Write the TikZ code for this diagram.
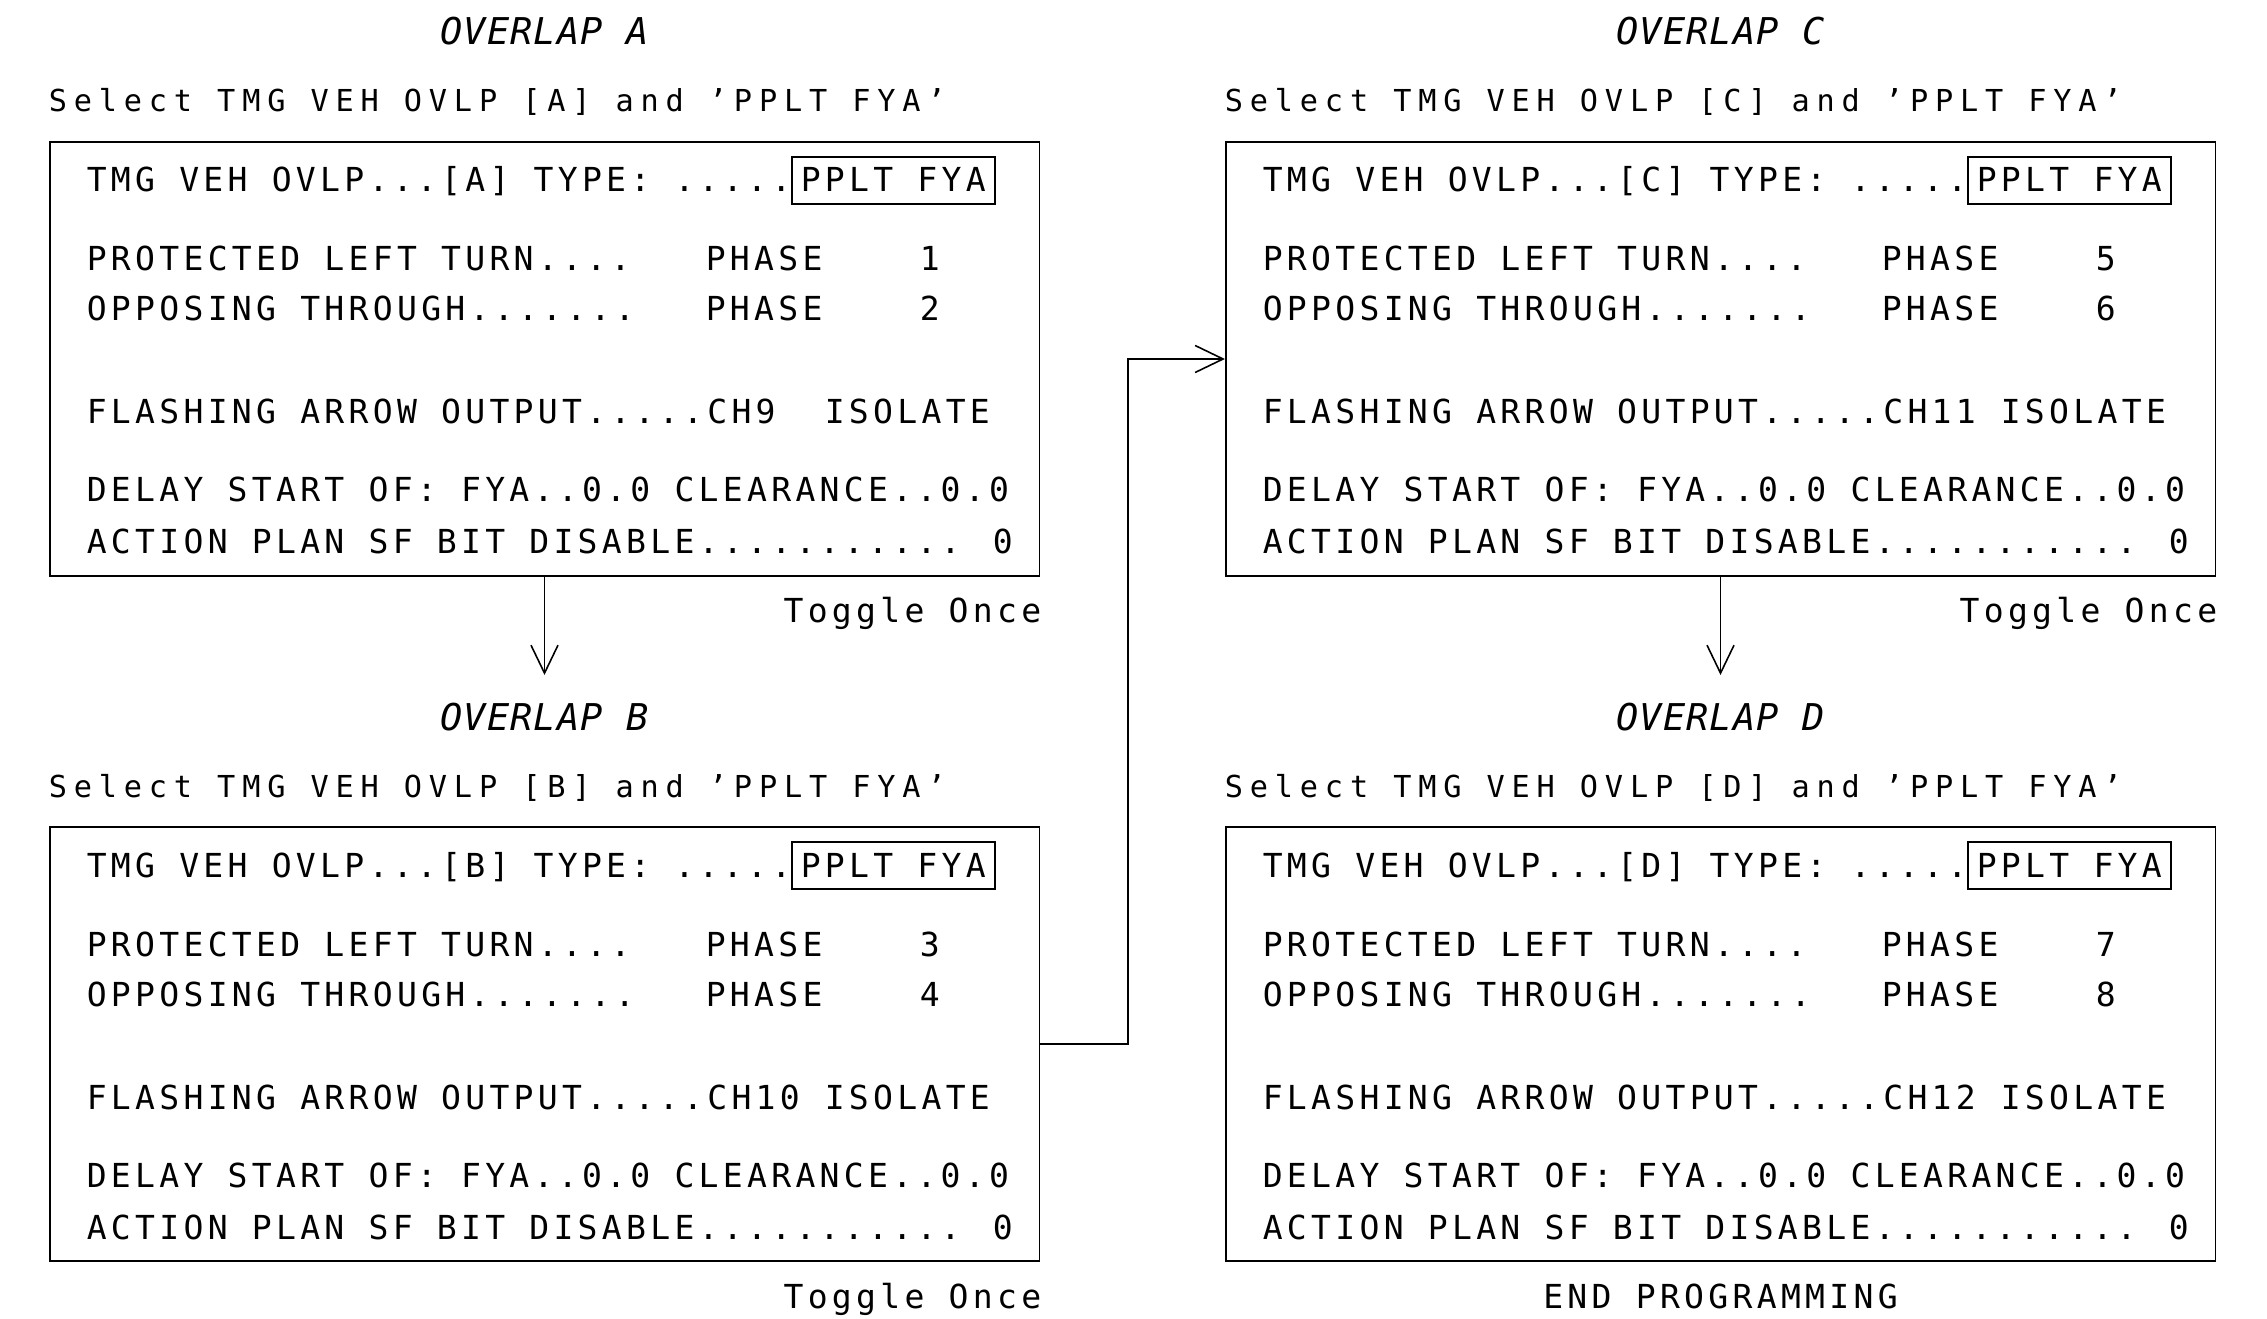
\documentclass[tikz,border=0pt]{standalone}
\usepackage{fontspec}
\newfontfamily\cadfont[LetterSpace=13]{DejaVu Sans Mono}
\newfontfamily\cadsel[LetterSpace=22.6]{DejaVu Sans Mono}
\newfontfamily\cadttl[LetterSpace=3]{DejaVu Sans Mono}
\usetikzlibrary{arrows.meta, positioning}

\begin{document}
\begin{tikzpicture}[x=0.01cm, y=-0.01cm, line width=0.45pt,
  >={Straight Barb[length=0.28cm, width=0.27cm]},
  panel/.style={draw, minimum width=9.89cm, minimum height=4.34cm, inner sep=0pt},
  tag/.style={draw, minimum width=2.03cm, minimum height=0.47cm, inner sep=0pt},
  row/.style={anchor=base west, inner sep=0pt, font=\cadfont\fontsize{9.4}{11}\selectfont},
  pick/.style={anchor=base west, inner sep=0pt, font=\cadsel\fontsize{8.6}{10}\selectfont},
  heading/.style={anchor=base, inner sep=0pt, font=\cadttl\itshape\fontsize{10.5}{12}\selectfont}]
  \useasboundingbox (0,0) rectangle (2267,1319);

  % the four overlap screens
  \foreach \L/\x/\y/\pa/\pb/\ch in {A/0/0/1/2/CH9, B/0/685/3/4/CH10,
                                    C/1176/0/5/6/CH11, D/1176/685/7/8/CH12} {
    \node[panel] (\L) at (544.5+\x, 359+\y) {};
    \node[heading] (\L-head) at (544.5+\x, 45+\y) {OVERLAP \L};
    \node[pick] (\L-sel) at (48+\x, 112+\y) {Select TMG VEH OVLP [\L] and ’PPLT FYA’};
    \node[tag] (\L-tag) at (893.5+\x, 180.5+\y) {};
    \node[row] (\L-type) at (86+\x, 192+\y) {TMG VEH OVLP...[\L] TYPE: .....};
    \node[row] (\L-fya) at (800+\x, 192+\y) {PPLT FYA};
    \node[row] (\L-plt) at (86+\x, 271+\y) {PROTECTED LEFT TURN....};
    \node[row] (\L-ph1) at (705+\x, 271+\y) {PHASE};
    \node[row] (\L-n1) at (919+\x, 271+\y) {\pa};
    \node[row] (\L-opp) at (86+\x, 321+\y) {OPPOSING THROUGH.......};
    \node[row] (\L-ph2) at (705+\x, 321+\y) {PHASE};
    \node[row] (\L-n2) at (919+\x, 321+\y) {\pb};
    \node[row] (\L-fao) at (86+\x, 424+\y) {FLASHING ARROW OUTPUT.....\ch};
    \node[row] (\L-iso) at (824+\x, 424+\y) {ISOLATE};
    \node[row] (\L-dly) at (86+\x, 502+\y) {DELAY START OF: FYA..0.0 CLEARANCE..0.0};
    \node[row] (\L-sf) at (86+\x, 554+\y) {ACTION PLAN SF BIT DISABLE........... 0};
  }

  \foreach \L/\x/\y in {A/0/0, B/0/685, C/1176/0}
    \node[row, anchor=base east] (\L-tog) at (1042+\x, 623+\y) {Toggle Once};
  \node[row, anchor=base] (End) at (1720.5, 1308) {END PROGRAMMING};

  % connectors
  \coordinate (AB) at (544.5, 675);
  \coordinate (CD) at (1720.5, 675);
  \coordinate (Bend) at (1128, 700);
  \draw[->] (A) -- (AB);
  \draw[->] (C) -- (CD);
  \draw[->] (B.east) -- (B.east -| Bend) |- (C.west);
\end{tikzpicture}
\end{document}
